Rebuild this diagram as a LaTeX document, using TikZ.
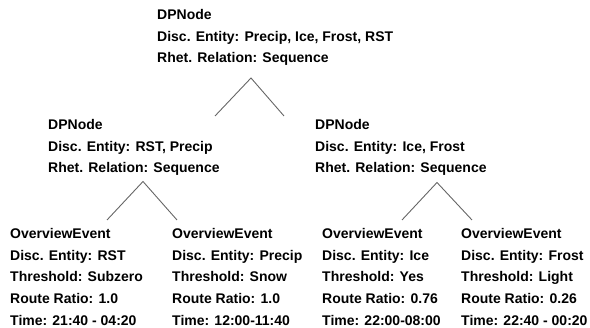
\documentclass[tikz,border=0pt]{standalone}
\usepackage{fontspec}
\setmainfont{Liberation Sans}
\begin{document}
\begin{tikzpicture}[x=1pt,y=-1pt,
  info/.style={anchor=base west, inner sep=0pt, align=left,
    font=\fontsize{14pt}{21.7pt}\selectfont\bfseries},
  branch/.style={draw=black!60, line width=0.9pt}]
\useasboundingbox (0,0) rectangle (590,328);
% anchors are at the baseline of the last line
\node[info] (root) at (157,62.9) {DPNode\\Disc. Entity: Precip, Ice, Frost, RST\\Rhet. Relation: Sequence};
\node[info] (dpl) at (48,172.9) {DPNode\\Disc. Entity: RST, Precip\\Rhet. Relation: Sequence};
\node[info] (dpr) at (315,172.9) {DPNode\\Disc. Entity: Ice, Frost\\Rhet. Relation: Sequence};
\node[info] (e1) at (10,325.3) {OverviewEvent\\Disc. Entity: RST\\Threshold: Subzero\\Route Ratio: 1.0\\Time: 21:40 - 04:20};
\node[info] (e2) at (172,325.3) {OverviewEvent\\Disc. Entity: Precip\\Threshold: Snow\\Route Ratio: 1.0\\Time: 12:00-11:40};
\node[info] (e3) at (322,325.3) {OverviewEvent\\Disc. Entity: Ice\\Threshold: Yes\\Route Ratio: 0.76\\Time: 22:00-08:00};
\node[info] (e4) at (461,325.3) {OverviewEvent\\Disc. Entity: Frost\\Threshold: Light\\Route Ratio: 0.26\\Time: 22:40 - 00:20};
\coordinate (t0) at (251,78);
\coordinate (t0l) at (215,116);
\coordinate (t0r) at (284,116);
\coordinate (t1) at (143,181.5);
\coordinate (t1l) at (107,220);
\coordinate (t1r) at (177,220);
\coordinate (t2) at (437,182.5);
\coordinate (t2l) at (402,220);
\coordinate (t2r) at (472,220);
\draw[branch] (t0l) -- (t0) -- (t0r);
\draw[branch] (t1l) -- (t1) -- (t1r);
\draw[branch] (t2l) -- (t2) -- (t2r);
\end{tikzpicture}
\end{document}
